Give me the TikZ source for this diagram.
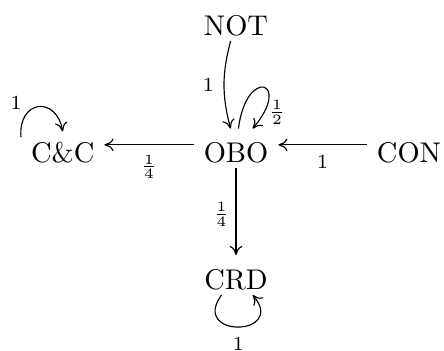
\documentclass[tikz,border=0pt]{standalone}
\usetikzlibrary{arrows.meta}
\begin{document}
\begin{tikzpicture}[x=0.351pt,y=-0.351pt,
  st/.style={anchor=base, inner xsep=3.33pt, inner ysep=1.9pt, text height=9.8pt, text depth=0pt},
  lbl/.style={font=\scriptsize},
  arr/.style={-{To[length=3.2pt,width=4.4pt]}}]
\useasboundingbox (0,0) rectangle (444,350);
\node[st] (not) at (236,35) {NOT};
\node[st] (obo) at (236,162.5) {OBO};
\node[st] (cc) at (62.7,162.5) {C\&C};
\node[st] (con) at (409,162.5) {CON};
\node[st] (crd) at (236,289) {CRD};
\draw[arr] (not) to[bend right=15] node[lbl,left]{1} (obo);
\draw[arr] (obo) to[out=83,in=50,min distance=22pt] node[lbl,pos=0.85,right,inner sep=1pt,yshift=-1pt]{$\frac{1}{2}$} (obo);
\draw[arr] ([yshift=1.3pt]con.west) -- node[lbl,below]{1} ([yshift=1.3pt]obo.east);
\draw[arr] ([yshift=1.3pt]obo.west) -- node[lbl,below]{$\frac{1}{4}$} ([yshift=1.3pt]cc.east);
\draw[arr] (obo) -- node[lbl,left,inner sep=2pt,pos=0.53]{$\frac{1}{4}$} (crd);
\draw[arr] (crd) to[out=-126,in=-50,min distance=19pt] node[lbl,below]{1} (crd);
\draw[arr] ([yshift=4pt]cc.west) .. controls +(95:13pt) and +(100:13pt) .. ([yshift=-1pt]cc.north) node[lbl,pos=0.25,above left,inner sep=2pt,xshift=1pt]{1};
\end{tikzpicture}
\end{document}
